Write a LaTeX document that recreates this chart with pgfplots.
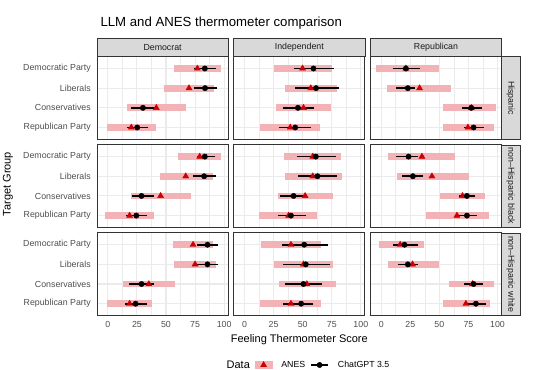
\documentclass[border=0pt]{standalone}
\usepackage{fontspec}
\setmainfont{Liberation Sans}
\usepackage{pgfplots}
\pgfplotsset{compat=1.18}
\usepackage{pgfplotstable}

\definecolor{barpink}{RGB}{243,178,181}
\definecolor{anesred}{RGB}{204,0,0}
\definecolor{gridgray}{RGB}{235,235,235}
\definecolor{bordergray}{RGB}{51,51,51}
\definecolor{stripgray}{RGB}{217,217,217}
\definecolor{ticklab}{RGB}{77,77,77}
\definecolor{striptext}{RGB}{26,26,26}

% columns: y lo hi anes gpt glo ghi
\pgfplotstableread{
y lo hi anes gpt glo ghi
1 56.9 97.2 77.0 83.4 74.0 92.8
2 48.3 91.4 69.8 83.6 74.0 93.7
3 16.1 67.0 41.7 30.2 19.6 41.1
4 -1.1 41.7 20.2 25.3 16.1 34.8
}\HD
\pgfplotstableread{
y lo hi anes gpt glo ghi
1 25.0 75.0 49.9 59.3 42.2 77.2
2 34.5 79.2 57.0 61.5 43.0 81.2
3 27.4 74.4 50.7 45.9 32.8 59.8
4 13.7 65.0 39.3 43.6 29.9 57.3
}\HI
\pgfplotstableread{
y lo hi anes gpt glo ghi
1 -4.3 49.3 21.2 21.2 9.7 33.5
2 4.9 60.2 33.0 22.9 12.9 29.2
3 53.0 98.6 77.4 77.4 69.4 86.6
4 52.7 96.6 74.5 79.4 70.8 88.6
}\HR
\pgfplotstableread{
y lo hi anes gpt glo ghi
1 60.3 97.7 79.0 83.4 76.5 92.0
2 44.6 90.0 67.0 82.8 73.3 92.8
3 19.6 71.3 45.4 29.0 21.0 39.7
4 -2.0 39.7 18.7 24.5 15.3 34.0
}\BD
\pgfplotstableread{
y lo hi anes gpt glo ghi
1 33.6 82.6 58.7 61.3 45.0 78.3
2 34.5 83.5 58.7 62.7 45.9 79.2
3 28.5 75.8 52.1 42.2 30.8 53.6
4 12.3 62.1 37.9 39.9 28.5 52.7
}\BI
\pgfplotstableread{
y lo hi anes gpt glo ghi
1 5.7 63.6 35.0 23.5 12.9 31.2
2 13.5 75.7 43.6 27.2 17.8 35.5
3 50.7 89.4 69.9 73.7 66.5 80.8
4 38.4 92.3 65.1 73.7 65.0 82.3
}\BR
\pgfplotstableread{
y lo hi anes gpt glo ghi
1 56.0 90.0 73.3 85.7 76.5 94.3
2 56.9 92.8 75.0 85.7 76.5 95.1
3 13.3 57.8 35.3 29.0 18.1 39.7
4 -0.5 38.2 18.7 23.9 14.7 33.4
}\WD
\pgfplotstableread{
y lo hi anes gpt glo ghi
1 14.2 65.8 39.9 51.3 32.2 71.5
2 25.0 75.8 50.7 52.7 32.8 73.5
3 29.9 78.6 53.6 50.7 35.0 66.4
4 13.7 65.5 39.9 48.7 32.8 59.3
}\WI
\pgfplotstableread{
y lo hi anes gpt glo ghi
1 -2.3 36.4 16.3 20.0 9.7 31.2
2 5.4 49.9 26.9 22.9 14.0 31.2
3 58.5 97.2 78.5 79.4 70.8 87.4
4 52.7 93.1 72.8 81.4 73.1 90.3
}\WR

\pgfplotsset{
  panel/.style={
    scale only axis, width=131.2bp, height=82.6bp,
    xmin=-9.3, xmax=103.5, ymin=0.4, ymax=4.6, y dir=reverse,
    xtick={0,25,50,75,100}, minor xtick={12.5,37.5,62.5,87.5},
    ytick={1,2,3,4},
    xmajorgrids, xminorgrids, ymajorgrids,
    major grid style={gridgray, line width=1.07bp},
    minor grid style={gridgray, line width=0.53bp},
    axis line style={bordergray, line width=0.9bp},
    tick style={bordergray, line width=0.9bp},
    tick align=outside, major tick length=2.75bp, minor tick length=0bp,
    tick pos=left,
    xticklabels={}, yticklabels={},
    xtick style={draw=none}, ytick style={draw=none},
    /pgf/number format/assume math mode=true,
    ticklabel style={font=\fontsize{8.8bp}{10bp}\selectfont, text=ticklab},
  },
  leftcol/.style={
    ytick style={bordergray, line width=0.9bp},
    yticklabels={Democratic Party,Liberals,Conservatives,Republican Party},
  },
  bottomrow/.style={
    xtick style={bordergray, line width=0.9bp},
    xticklabels={0,25,50,75,100},
  },
}

\newcommand{\panel}[4]{%
  \begin{axis}[panel, at={(#1,#2)}, anchor=south west, #4]
    \addplot[forget plot, draw=none, mark=none,
      error bars/.cd, x dir=plus, x explicit, error mark=none,
      error bar style={draw=barpink, line width=6.7bp, line cap=butt}]
      table[x=lo, y=y, x error plus expr={\thisrow{hi}-\thisrow{lo}}]{#3};
    \addplot[forget plot, only marks, mark=triangle*, mark size=3.5bp,
      color=anesred, mark options={solid, fill=anesred, draw=anesred}]
      table[x=anes, y=y]{#3};
    \addplot[forget plot, black, only marks, mark=*, mark size=2.7bp,
      error bars/.cd, x dir=both, x explicit, error mark=none,
      error bar style={black, line width=1.7bp}]
      table[x=gpt, y=y,
        x error plus expr={\thisrow{ghi}-\thisrow{gpt}},
        x error minus expr={\thisrow{gpt}-\thisrow{glo}}]{#3};
  \end{axis}}

\begin{document}
\begin{tikzpicture}
\path[use as bounding box] (0bp,0bp) rectangle (534bp,370bp);

% panels
\panel{97bp}{230.7bp}{\HD}{leftcol}
\panel{233.7bp}{230.7bp}{\HI}{}
\panel{370.4bp}{230.7bp}{\HR}{}
\panel{97bp}{142.6bp}{\BD}{leftcol}
\panel{233.7bp}{142.6bp}{\BI}{}
\panel{370.4bp}{142.6bp}{\BR}{}
\panel{97bp}{54.5bp}{\WD}{leftcol,bottomrow}
\panel{233.7bp}{54.5bp}{\WI}{bottomrow}
\panel{370.4bp}{54.5bp}{\WR}{bottomrow}

% top strips
\draw[fill=stripgray, draw=bordergray, line width=0.5bp] (97bp,313.3bp) rectangle (228.2bp,331.5bp);
\draw[fill=stripgray, draw=bordergray, line width=0.5bp] (233.7bp,313.3bp) rectangle (364.9bp,331.5bp);
\draw[fill=stripgray, draw=bordergray, line width=0.5bp] (370.4bp,313.3bp) rectangle (501.6bp,331.5bp);
\node[text=striptext, font=\fontsize{8.8bp}{10bp}\selectfont] at (162.6bp,322.4bp) {Democrat};
\node[text=striptext, font=\fontsize{8.8bp}{10bp}\selectfont] at (299.3bp,322.4bp) {Independent};
\node[text=striptext, font=\fontsize{8.8bp}{10bp}\selectfont] at (436bp,322.4bp) {Republican};
% right strips
\draw[fill=stripgray, draw=bordergray, line width=0.5bp] (501.6bp,230.7bp) rectangle (519.8bp,313.3bp);
\draw[fill=stripgray, draw=bordergray, line width=0.5bp] (501.6bp,142.6bp) rectangle (519.8bp,225.2bp);
\draw[fill=stripgray, draw=bordergray, line width=0.5bp] (501.6bp,54.5bp) rectangle (519.8bp,137.1bp);
\node[text=striptext, font=\fontsize{8.8bp}{10bp}\selectfont, rotate=-90] at (510.7bp,272bp) {Hispanic};
\node[text=striptext, font=\fontsize{8.8bp}{10bp}\selectfont, rotate=-90] at (510.7bp,183.9bp) {non\textendash Hispanic black};
\node[text=striptext, font=\fontsize{8.8bp}{10bp}\selectfont, rotate=-90] at (510.7bp,95.8bp) {non\textendash Hispanic white};

% titles
\node[anchor=base west, font=\fontsize{13.2bp}{15bp}\selectfont] at (97bp,343bp) {LLM and ANES thermometer comparison};
\node[font=\fontsize{11bp}{13bp}\selectfont] at (299.3bp,30bp) {Feeling Thermometer Score};
\node[rotate=90, font=\fontsize{11bp}{13bp}\selectfont] at (8bp,186bp) {Target Group};

% legend
\begin{axis}[hide axis, scale only axis, width=10bp, height=10bp,
  at={(304.5bp,5bp)}, anchor=center, xmin=0, xmax=1, ymin=0, ymax=1,
  legend columns=3,
  legend style={at={(0.5,0.5)}, anchor=center, draw=none, fill=none,
    font=\fontsize{8.8bp}{10bp}\selectfont,
    /tikz/every odd column/.append style={column sep=7bp},
    /tikz/every even column/.append style={column sep=3bp}},
  legend cell align=left]
  \addlegendimage{empty legend}
  \addlegendentry{\fontsize{11bp}{13bp}\selectfont Data}
  \addlegendimage{legend image code/.code={
      \fill[barpink] (0bp,-3.4bp) rectangle (17bp,3.4bp);
      \draw[anesred, fill=anesred, mark=triangle*, mark size=3.5bp] plot coordinates {(8.5bp,0bp)};}}
  \addlegendentry{ANES}
  \addlegendimage{legend image code/.code={
      \draw[black, line width=1.7bp] (0bp,0bp) -- (17bp,0bp);
      \draw[black, fill=black, mark=*, mark size=2.7bp] plot coordinates {(8.5bp,0bp)};}}
  \addlegendentry{ChatGPT 3.5}
\end{axis}
\end{tikzpicture}
\end{document}
